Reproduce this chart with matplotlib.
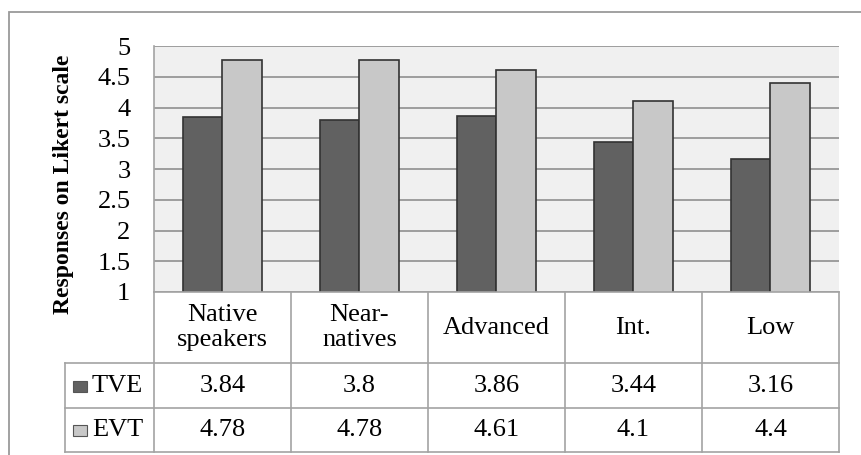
import matplotlib
matplotlib.use("Agg")

import matplotlib.pyplot as plt
from matplotlib.patches import Rectangle

plt.rcParams["font.family"] = ["Liberation Serif", "DejaVu Serif"]

categories = ["Native\nspeakers", "Near-\nnatives", "Advanced", "Int.", "Low"]
series_names = ["TVE", "EVT"]
tve = [3.84, 3.8, 3.86, 3.44, 3.16]
evt = [4.78, 4.78, 4.61, 4.1, 4.4]
value_labels = [
    ["3.84", "3.8", "3.86", "3.44", "3.16"],
    ["4.78", "4.78", "4.61", "4.1", "4.4"],
]
yticks = [1, 1.5, 2, 2.5, 3, 3.5, 4, 4.5, 5]
ytick_labels = ["1", "1.5", "2", "2.5", "3", "3.5", "4", "4.5", "5"]

W, H = 862, 455
TVE_COLOR = "#616161"
EVT_COLOR = "#c8c8c8"
EDGE = "#333333"
LINE = "#a3a3a3"
FS = 19


def px_rect(left, top, right, bottom):
    # pixel box -> figure fraction [l, b, w, h]
    return [left / W, 1 - bottom / H, (right - left) / W, (bottom - top) / H]


fig = plt.figure(figsize=(W / 100, H / 100), dpi=100)

# outer chart frame (runs off the right and bottom edge)
fig.add_artist(Rectangle((9 / W, -0.05), 1.0, 1 - 12 / H + 0.05,
                         transform=fig.transFigure, fill=False,
                         edgecolor="#9a9a9a", linewidth=1.3))

# ---- bars ----
ax = fig.add_axes(px_rect(154, 46, 839, 292))
ax.set_facecolor("#f0f0f0")
n = len(categories)
x = list(range(n))
bw = 0.29
ax.bar([i - bw / 2 for i in x], tve, width=bw, color=TVE_COLOR,
       edgecolor=EDGE, linewidth=1.2, zorder=3)
ax.bar([i + bw / 2 for i in x], evt, width=bw, color=EVT_COLOR,
       edgecolor=EDGE, linewidth=1.2, zorder=3)
ax.set_xlim(-0.5, n - 0.5)
ax.set_ylim(1, 5)
ax.set_yticks(yticks)
ax.set_yticklabels(ytick_labels, fontsize=FS)
ax.set_xticks([])
ax.tick_params(axis="y", length=0, pad=17)
ax.yaxis.grid(True, color="#8f8f8f", linewidth=1.2, zorder=0)
for s in ["top", "right", "bottom"]:
    ax.spines[s].set_visible(False)
ax.spines["left"].set_color(LINE)
ax.spines["left"].set_linewidth(1.2)
ax.set_ylabel("Responses on Likert scale", fontsize=17, fontweight="bold")
ax.yaxis.label.set_verticalalignment("center")
ax.yaxis.set_label_coords((64 - 154) / 685, (292 - 184) / 246)

# ---- data table ----
tab = fig.add_axes(px_rect(65, 292, 839, 452))
leg_w = 89 / 137
tab.set_xlim(-0.5 - leg_w, n - 0.5)
row_edges = [0, 71, 116, 160]
tab.set_ylim(row_edges[-1], row_edges[0])
tab.axis("off")

lw = 1.2
tab.plot([-0.5, n - 0.5], [0, 0], color=LINE, lw=lw, clip_on=False)
for y in row_edges[1:]:
    tab.plot([-0.5 - leg_w, n - 0.5], [y, y], color=LINE, lw=lw, clip_on=False)
tab.plot([-0.5 - leg_w, -0.5 - leg_w], [row_edges[1], row_edges[-1]],
         color=LINE, lw=lw, clip_on=False)
for i in range(n + 1):
    tab.plot([i - 0.5, i - 0.5], [0, row_edges[-1]], color=LINE, lw=lw,
             clip_on=False)

for i, cat in enumerate(categories):
    tab.text(i, (row_edges[0] + row_edges[1]) / 2, cat, ha="center",
             va="center", fontsize=FS, linespacing=1.2)

for r, (name, color) in enumerate(zip(series_names, [TVE_COLOR, EVT_COLOR])):
    yc = (row_edges[r + 1] + row_edges[r + 2]) / 2
    for i in range(n):
        tab.text(i, yc, value_labels[r][i], ha="center", va="center",
                 fontsize=FS)
    kx = -0.5 - leg_w + 8 / 137
    tab.add_patch(Rectangle((kx, yc - 5), 14 / 137, 11, facecolor=color,
                            edgecolor="#555555", linewidth=0.8,
                            clip_on=False))
    tab.text(-0.5 - leg_w + 27 / 137, yc, name, ha="left", va="center",
             fontsize=FS)

fig.savefig("out.png", dpi=100)
